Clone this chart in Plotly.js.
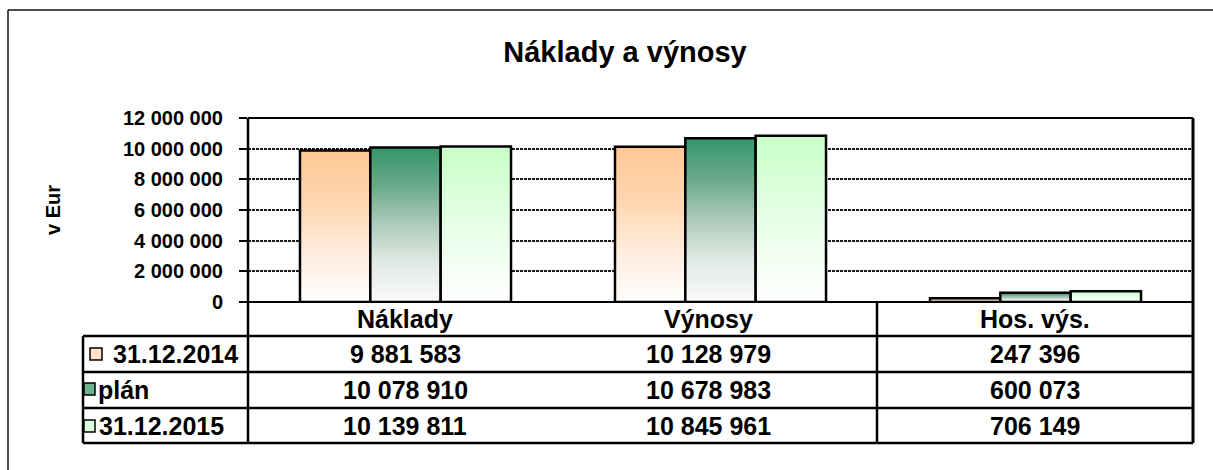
<!DOCTYPE html>
<html>
<head>
<meta charset="utf-8">
<script src="https://cdn.plot.ly/plotly-3.0.1.min.js"></script>
<style>
  html, body { margin: 0; padding: 0; background: #fff; }
  #chart { width: 1213px; height: 470px; }
</style>
</head>
<body>
<div id="chart"></div>
<script>
// ---- data ----
const categories = ['Náklady', 'Výnosy', 'Hos. výs.'];
const seriesNames = ['31.12.2014', 'plán', '31.12.2015'];
const values2014 = [9881583, 10128979, 247396];
const valuesPlan = [10078910, 10678983, 600073];
const values2015 = [10139811, 10845961, 706149];
const yTickVals = [0, 2000000, 4000000, 6000000, 8000000, 10000000, 12000000];
const yAxisTitle = 'v Eur';
const chartTitle = 'Náklady a výnosy';

const seriesValues = [values2014, valuesPlan, values2015];

// ---- style ----
const FONT = 'Liberation Sans, Arial, sans-serif';
const W = 1213, H = 470;
const L = 248, R = 1193, T = 118, B = 302;
const px = X => (X - L) / (R - L);
const py = Y => (B - Y) / (B - T);

const gradients = [
  { id: 'grad2014', stops: [[0, '#FFC894'], [0.35, '#FFD6B0'], [0.65, '#FFEBDB'], [1, '#FFFFFF']] },
  { id: 'gradPlan', stops: [[0, '#34966A'], [0.25, '#6AAA88'], [0.5, '#AECBBC'], [0.75, '#E2EAE5'], [1, '#FAFAFA']] },
  { id: 'grad2015', stops: [[0, '#C8FFC8'], [0.5, '#E6FFE6'], [1, '#FFFFFF']] }
];
const solidColors = ['#FFD8B4', '#8CC0A4', '#E2FFE2'];
const keyColors = ['#FFE2C8', '#6FB08E', '#DDFFDD'];

const fmt = v => String(v).replace(/\B(?=(\d{3})+(?!\d))/g, ' ');

const traces = seriesNames.map((name, i) => ({
  type: 'bar',
  name: name,
  x: categories,
  y: seriesValues[i],
  marker: { color: solidColors[i], line: { color: '#000', width: 2.5 } },
  hoverinfo: 'x+y+name',
  showlegend: false
}));

// ---- table geometry (pixels) ----
const rowLines = [336, 372, 408, 443];
const headerCenterY = 319;
const rowCenters = [354, 390, 425.5];
const colCenters = [405, 708, 1035];
const lineW = 2.5;

const shapes = [];
const line = (x0, y0, x1, y1, w, color) => shapes.push({
  type: 'line', xref: 'paper', yref: 'paper',
  x0: px(x0), y0: py(y0), x1: px(x1), y1: py(y1),
  line: { color: color || '#000', width: w }
});
// outer frame
line(8, 10, W + 10, 10, 1.5, '#111');
line(8, 10, 8, H + 10, 1.5, '#111');
// plot border
line(L, T, R, T, 2);
line(L, T, L, 443, 2.5);
line(R, T, R, 443, 3);
// table lines
rowLines.forEach(y => line(83, y, R, y, lineW));
line(83, 336, 83, 443, lineW);
line(877, B, 877, 443, lineW);
// legend keys
const keyBoxes = [[90, 348, 102, 360], [84, 383, 95, 395], [84, 420, 95, 432]];
keyBoxes.forEach((k, i) => shapes.push({
  type: 'rect', xref: 'paper', yref: 'paper',
  x0: px(k[0]), y0: py(k[3]), x1: px(k[2]), y1: py(k[1]),
  fillcolor: keyColors[i], line: { color: '#000', width: 1.5 }
}));

const annotations = [];
const tf = { family: FONT, size: 25, color: '#000', weight: 700 };
categories.forEach((c, j) => annotations.push({
  xref: 'paper', yref: 'paper', x: px(colCenters[j]), y: py(headerCenterY),
  text: c, showarrow: false, xanchor: 'center', yanchor: 'middle', font: tf
}));
const labelX = [111, 96, 97];
seriesNames.forEach((s, i) => {
  annotations.push({
    xref: 'paper', yref: 'paper', x: px(labelX[i]), y: py(rowCenters[i]),
    text: s, showarrow: false, xanchor: 'left', yanchor: 'middle', font: tf
  });
  seriesValues[i].forEach((v, j) => annotations.push({
    xref: 'paper', yref: 'paper', x: px(colCenters[j]), y: py(rowCenters[i]),
    text: fmt(v), showarrow: false, xanchor: 'center', yanchor: 'middle', font: tf
  }));
});
// y axis title
annotations.push({
  xref: 'paper', yref: 'paper', x: px(53), y: 0.5, textangle: -90,
  text: yAxisTitle, showarrow: false, xanchor: 'center', yanchor: 'middle',
  font: { family: FONT, size: 20, color: '#000', weight: 700 }
});

const layout = {
  width: W, height: H,
  margin: { l: L, r: W - R, t: T, b: H - B, pad: 0 },
  paper_bgcolor: '#fff', plot_bgcolor: '#fff',
  separators: ', ',
  barmode: 'group', bargap: 0.33, bargroupgap: 0,
  title: {
    text: chartTitle, xref: 'container', yref: 'container',
    x: 625 / W, xanchor: 'center', y: 1 - 52 / H, yanchor: 'middle',
    font: { family: FONT, size: 29, color: '#000', weight: 700 }
  },
  xaxis: { showticklabels: false, ticks: '', showgrid: false, zeroline: false, showline: false, fixedrange: true },
  yaxis: {
    range: [0, 12000000], tickvals: yTickVals, tickformat: ',d',
    ticks: 'outside', ticklen: 8, tickwidth: 2, tickcolor: '#000',
    ticklabelstandoff: 12,
    tickfont: { family: FONT, size: 20, color: '#000', weight: 700 },
    showgrid: true, gridcolor: '#1a1a1a', gridwidth: 2, griddash: '3px,1px',
    zeroline: true, zerolinecolor: '#000', zerolinewidth: 2,
    showline: false, fixedrange: true
  },
  shapes: shapes,
  annotations: annotations
};

const gd = document.getElementById('chart');
Plotly.newPlot(gd, traces, layout, { displayModeBar: false, staticPlot: true }).then(() => {
  const svgNS = 'http://www.w3.org/2000/svg';
  const svg = gd.querySelector('svg.main-svg');
  let defs = svg.querySelector('defs');
  if (!defs) { defs = document.createElementNS(svgNS, 'defs'); svg.insertBefore(defs, svg.firstChild); }
  gradients.forEach(g => {
    const lg = document.createElementNS(svgNS, 'linearGradient');
    lg.setAttribute('id', g.id);
    lg.setAttribute('x1', '0'); lg.setAttribute('y1', '0');
    lg.setAttribute('x2', '0'); lg.setAttribute('y2', '1');
    g.stops.forEach(s => {
      const st = document.createElementNS(svgNS, 'stop');
      st.setAttribute('offset', s[0]);
      st.setAttribute('stop-color', s[1]);
      lg.appendChild(st);
    });
    defs.appendChild(lg);
  });
  const traceGroups = gd.querySelectorAll('.barlayer .trace.bars');
  traceGroups.forEach((tg, i) => {
    tg.querySelectorAll('path').forEach(p => {
      p.style.fill = 'url(#' + gradients[i].id + ')';
      p.style.fillOpacity = 1;
    });
  });
});
</script>
</body>
</html>
